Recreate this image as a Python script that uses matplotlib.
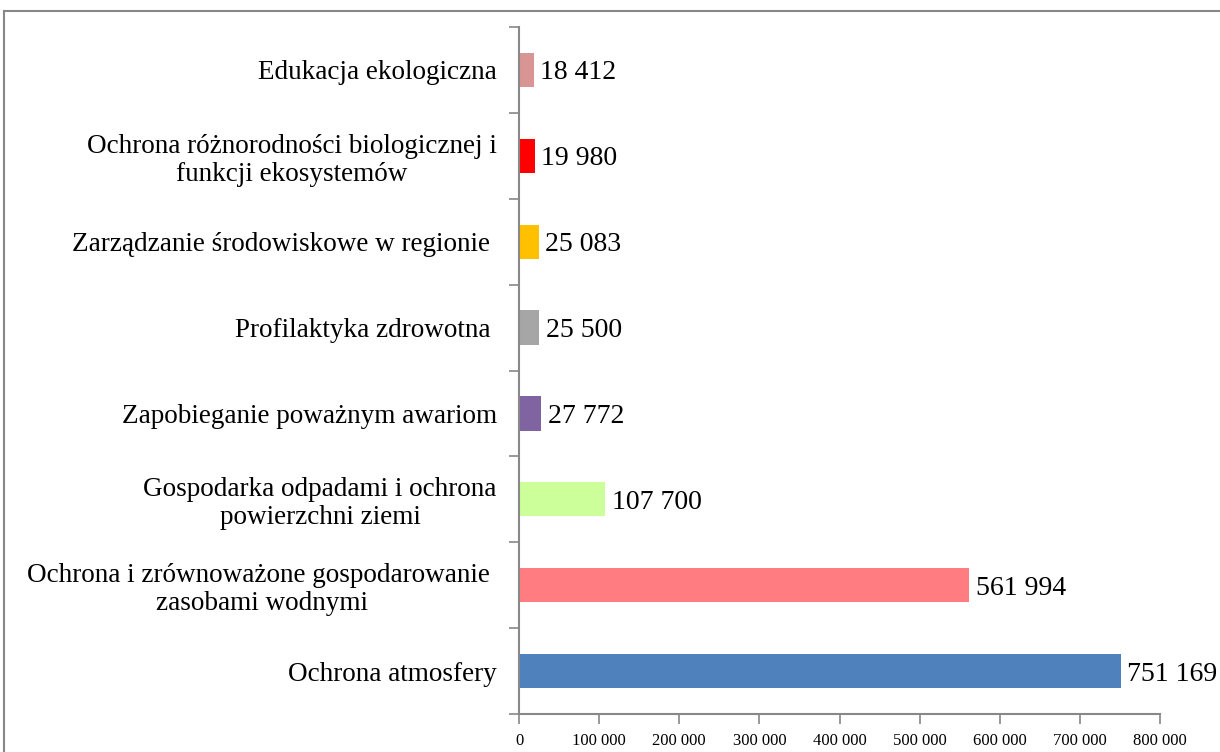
import matplotlib.pyplot as plt
from matplotlib.lines import Line2D

categories = [
    "Ochrona atmosfery",
    "Ochrona i zrównoważone gospodarowanie \nzasobami wodnymi",
    "Gospodarka odpadami i ochrona\npowierzchni ziemi",
    "Zapobieganie poważnym awariom",
    "Profilaktyka zdrowotna ",
    "Zarządzanie środowiskowe w regionie ",
    "Ochrona różnorodności biologicznej i\nfunkcji ekosystemów",
    "Edukacja ekologiczna",
]
values = [751169, 561994, 107700, 27772, 25500, 25083, 19980, 18412]
colors = ["#4F81BD", "#FF7C80", "#CCFF99", "#8064A2",
          "#A6A6A6", "#FFC000", "#FF0000", "#D99594"]
ticks = [0, 100000, 200000, 300000, 400000, 500000, 600000, 700000, 800000]


def fmt(v):
    return f"{v:,}".replace(",", " ")


plt.rcParams['font.family'] = ['Liberation Serif', 'DejaVu Serif']

fig = plt.figure(figsize=(12.2, 7.52), dpi=100)
ax = fig.add_axes([519 / 1220, 1 - 714 / 752, (1160 - 519) / 1220, (714 - 27) / 752])

pos = list(range(len(categories)))
ax.barh(pos, values, height=0.4, color=colors)
ax.set_ylim(-0.5, len(categories) - 0.5)
ax.set_xlim(0, 800000)

for p, v in zip(pos, values):
    ax.annotate(fmt(v), (v, p), xytext=(4.5, 0), textcoords="offset points",
                va="center_baseline", ha="left", fontsize=20)

ax.set_yticks(pos)
ax.set_yticklabels(categories, fontsize=19.5, multialignment="center",
                   linespacing=1.15)
ax.tick_params(axis="y", length=0, pad=16)
# boundary ticks between categories
ax.set_yticks([p - 0.5 for p in pos] + [len(pos) - 0.5], minor=True)
ax.tick_params(axis="y", which="minor", length=7, color="#888888", width=1.2)

ax.set_xticks(ticks)
ax.set_xticklabels([fmt(t) for t in ticks], fontsize=12)
ax.tick_params(axis="x", length=7, color="#888888", width=1.2, pad=7)

for s in ["top", "right"]:
    ax.spines[s].set_visible(False)
for s in ["left", "bottom"]:
    ax.spines[s].set_color("#888888")
    ax.spines[s].set_linewidth(1.5)

# outer frame of the chart area
fig.add_artist(Line2D([4 / 1220, 1.0], [1 - 11 / 752, 1 - 11 / 752],
                      transform=fig.transFigure, color="#888888", lw=1.5))
fig.add_artist(Line2D([4 / 1220, 4 / 1220], [0, 1 - 11 / 752],
                      transform=fig.transFigure, color="#888888", lw=1.5))

fig.savefig("out.png", dpi=100)
